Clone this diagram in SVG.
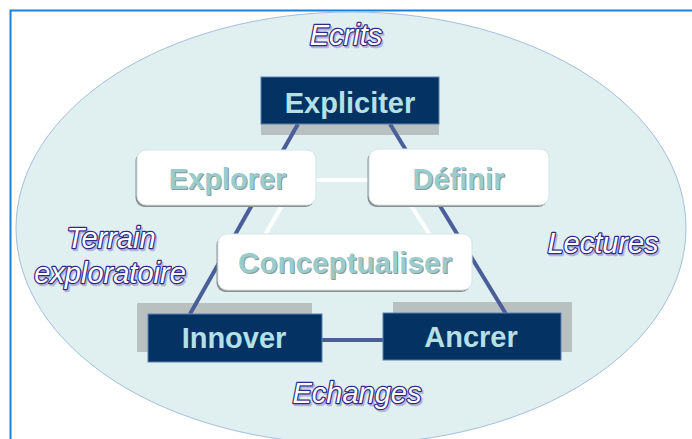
<svg xmlns="http://www.w3.org/2000/svg" width="692" height="439" viewBox="0 0 692 439">
<style>
.lbl{font-family:"Liberation Sans",Arial,sans-serif;font-style:italic;font-size:29px;fill:#ffffff;stroke:#2d2a86;stroke-width:2.4px;paint-order:stroke;stroke-linejoin:round;text-anchor:middle}
.lsh{font-family:"Liberation Sans",Arial,sans-serif;font-style:italic;font-size:29px;fill:#b7b3dc;stroke:#b7b3dc;stroke-width:2.4px;stroke-linejoin:round;text-anchor:middle}
.dark{fill:#033263;stroke:#5d80b0;stroke-width:1}
.gsh{fill:#b9c0c0}
.wbox{fill:#ffffff;stroke:#d3e6e6;stroke-width:1}
.wsh{fill:#8d8d8d}
.dt{font-family:"Liberation Sans",Arial,sans-serif;font-weight:bold;font-size:29px;fill:#b4e0e6;text-anchor:middle}
.wt{font-family:"Liberation Sans",Arial,sans-serif;font-weight:bold;font-size:29px;fill:#99cccc;text-anchor:middle}
.wts{font-family:"Liberation Sans",Arial,sans-serif;font-weight:bold;font-size:29px;fill:#8a9a9a;text-anchor:middle}
.cd{stroke:#4a5f9a;stroke-width:4;fill:none}
.cw{stroke:#ffffff;stroke-width:4;fill:none}
</style>
<rect x="0" y="0" width="692" height="439" fill="#ffffff"/>
<path d="M10.5 439 V10.5 H692" fill="none" stroke="#1e7fd6" stroke-width="2"/>
<ellipse cx="351" cy="228" rx="335" ry="216" fill="#e0eff0" stroke="#a4bede" stroke-width="1"/>
<g id="labels">
<text class="lsh" x="347.5" y="46.5">Ecrits</text>
<text class="lbl" x="346" y="45">Ecrits</text>
<text class="lsh" x="112.5" y="249.5">Terrain</text>
<text class="lbl" x="111" y="248">Terrain</text>
<text class="lsh" x="111.5" y="284.5">exploratoire</text>
<text class="lbl" x="110" y="283">exploratoire</text>
<text class="lsh" x="604.5" y="254.5">Lectures</text>
<text class="lbl" x="603" y="253">Lectures</text>
<text class="lsh" x="358.5" y="404.5">Echanges</text>
<text class="lbl" x="357" y="403">Echanges</text>
</g>
<g id="shadows">
<rect class="gsh" x="261" y="110" width="178" height="25"/>
<rect class="gsh" x="137" y="303" width="175" height="49"/>
<rect class="gsh" x="393" y="302" width="179" height="50"/>
</g>
<g id="connectors">
<line class="cd" x1="298" y1="124" x2="190" y2="314"/>
<line class="cd" x1="390" y1="124" x2="506" y2="314"/>
<line class="cd" x1="322" y1="340" x2="383" y2="340"/>
<line class="cw" x1="316" y1="180" x2="369" y2="180"/>
<line class="cw" x1="283" y1="204" x2="265" y2="235"/>
<line class="cw" x1="410" y1="204" x2="430" y2="235"/>
</g>
<g id="expliciter">
<rect class="dark" x="261" y="77" width="178" height="47"/>
<text class="dt" x="350" y="113">Expliciter</text>
</g>
<g id="explorer">
<rect class="wsh" x="135.5" y="152" width="179" height="55" rx="9"/>
<rect class="wbox" x="137" y="150" width="179" height="55" rx="9"/>
<text class="wts" x="228.5" y="190">Explorer</text>
<text class="wt" x="227.5" y="189">Explorer</text>
</g>
<g id="definir">
<rect class="wsh" x="367.5" y="151" width="180" height="56" rx="9"/>
<rect class="wbox" x="369" y="149" width="180" height="56" rx="9"/>
<text class="wts" x="459.5" y="190">Définir</text>
<text class="wt" x="458.5" y="189">Définir</text>
</g>
<g id="conceptualiser">
<rect class="wsh" x="216.5" y="236" width="254" height="56" rx="9"/>
<rect class="wbox" x="218" y="234" width="254" height="56" rx="9"/>
<text class="wts" x="346" y="274" textLength="214" lengthAdjust="spacingAndGlyphs">Conceptualiser</text>
<text class="wt" x="345" y="273" textLength="214" lengthAdjust="spacingAndGlyphs">Conceptualiser</text>
</g>
<g id="innover">
<rect class="dark" x="148" y="314" width="174" height="48"/>
<text class="dt" x="234" y="348">Innover</text>
</g>
<g id="ancrer">
<rect class="dark" x="383" y="313" width="178" height="47"/>
<text class="dt" x="471" y="347">Ancrer</text>
</g>
</svg>
